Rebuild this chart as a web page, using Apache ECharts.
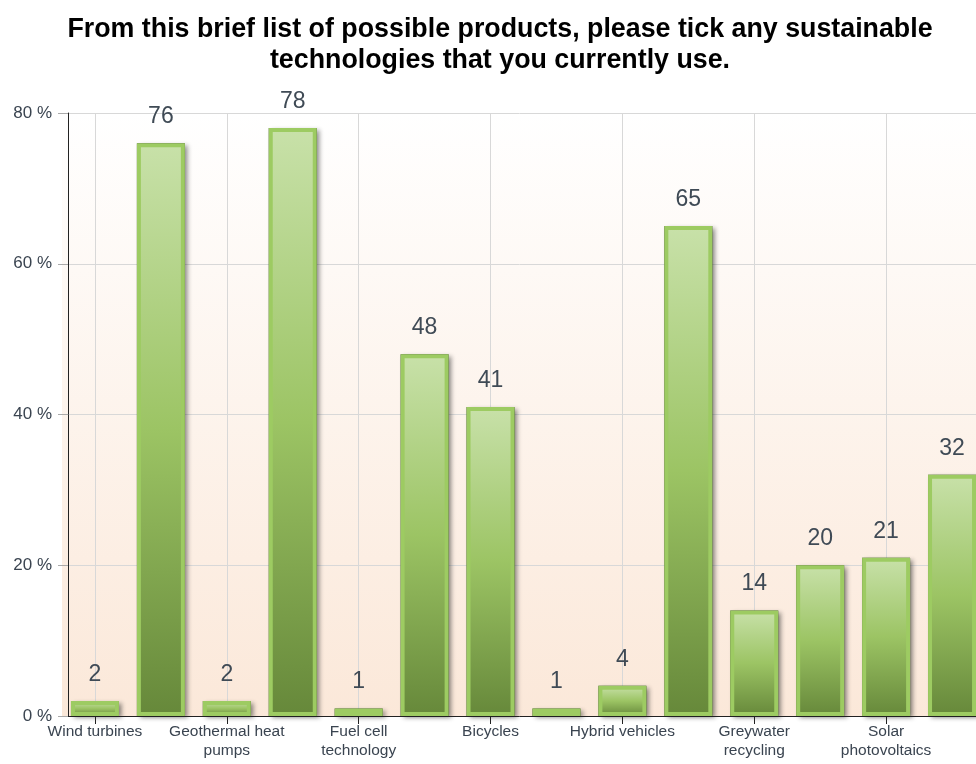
<!DOCTYPE html>
<html><head><meta charset="utf-8">
<script src="https://cdn.jsdelivr.net/npm/echarts@6/dist/echarts.min.js"></script>
<style>html,body{margin:0;padding:0;background:#fff}#c{width:976px;height:764px}</style>
</head><body><div id="c"></div>
<script>
const titleText = 'From this brief list of possible products, please tick any sustainable\ntechnologies that you currently use.';
const categories = [
  'Wind turbines',
  'Energy saving light bulbs',
  'Geothermal heat\npumps',
  'Recycling bins',
  'Fuel cell\ntechnology',
  'Home insulation',
  'Bicycles',
  'Electric vehicles',
  'Hybrid vehicles',
  'Double glazing',
  'Greywater\nrecycling',
  'Rainwater harvesting',
  'Solar\nphotovoltaics',
  'Solar water heating'
];
const values = [2, 76, 2, 78, 1, 48, 41, 1, 4, 65, 14, 20, 21, 32];
const yTicks = [0, 20, 40, 60, 80];

const chart = echarts.init(document.getElementById('c'), null, {renderer: 'canvas'});
const FONT = '"Liberation Sans", Arial, sans-serif';
chart.setOption({
  animation: false,
  title: {
    text: titleText,
    left: 495,
    top: 9,
    textAlign: 'center',
    textStyle: {fontFamily: FONT, fontWeight: 'bold', fontSize: 26.8, lineHeight: 31, color: '#000'}
  },
  grid: {
    left: 62, width: 923, top: 113, bottom: 48,
    outerBoundsMode: 'none',
    containLabel: false,
    show: true,
    borderWidth: 0,
    backgroundColor: new echarts.graphic.LinearGradient(0, 0, 0, 1, [
      {offset: 0, color: '#ffffff'},
      {offset: 1, color: '#fbe8d9'}
    ])
  },
  xAxis: {
    type: 'category',
    data: categories,
    boundaryGap: true,
    axisLine: {show: true, lineStyle: {color: '#222', width: 1}},
    axisTick: {show: true, interval: 1, alignWithLabel: true, length: 8, lineStyle: {color: '#222'}},
    axisLabel: {interval: 1, margin: 6, fontFamily: FONT, fontSize: 15.5, lineHeight: 19, color: '#3a4450'},
    splitLine: {show: true, interval: 1, alignWithLabel: true, lineStyle: {color: '#d8d8d8', width: 1}}
  },
  yAxis: {
    type: 'value',
    min: yTicks[0], max: yTicks[yTicks.length - 1], interval: 20,
    offset: -6,
    axisLine: {show: true, lineStyle: {color: '#222', width: 1}},
    axisTick: {show: true, length: 10, lineStyle: {color: '#aaa'}},
    axisLabel: {formatter: '{value} %', margin: 16, fontFamily: FONT, fontSize: 17, color: '#3a4450'},
    splitLine: {show: true, lineStyle: {color: '#d8d8d8', width: 1}}
  },
  series: [{
    type: 'bar',
    data: values,
    barWidth: 48,
    silent: true,
    itemStyle: {
      color: '#4a5836',
      borderColor: '#36402a',
      borderWidth: 7,
      shadowColor: 'rgba(30,30,30,0.4)',
      shadowBlur: 4,
      shadowOffsetX: 3,
      shadowOffsetY: 2
    }
  }, {
    type: 'bar',
    data: values,
    barWidth: 48,
    barGap: '-100%',
    itemStyle: {
      color: new echarts.graphic.LinearGradient(0, 0, 0, 1, [
        {offset: 0, color: '#c8e1a9'},
        {offset: 0.5, color: '#9cc464'},
        {offset: 1, color: '#66883a'}
      ]),
      borderColor: '#9dcb62',
      borderWidth: 4
    },
    label: {
      show: true, position: 'top', distance: 15,
      fontFamily: FONT, fontSize: 23, color: '#3f4a55'
    }
  }]
});
</script></body></html>
